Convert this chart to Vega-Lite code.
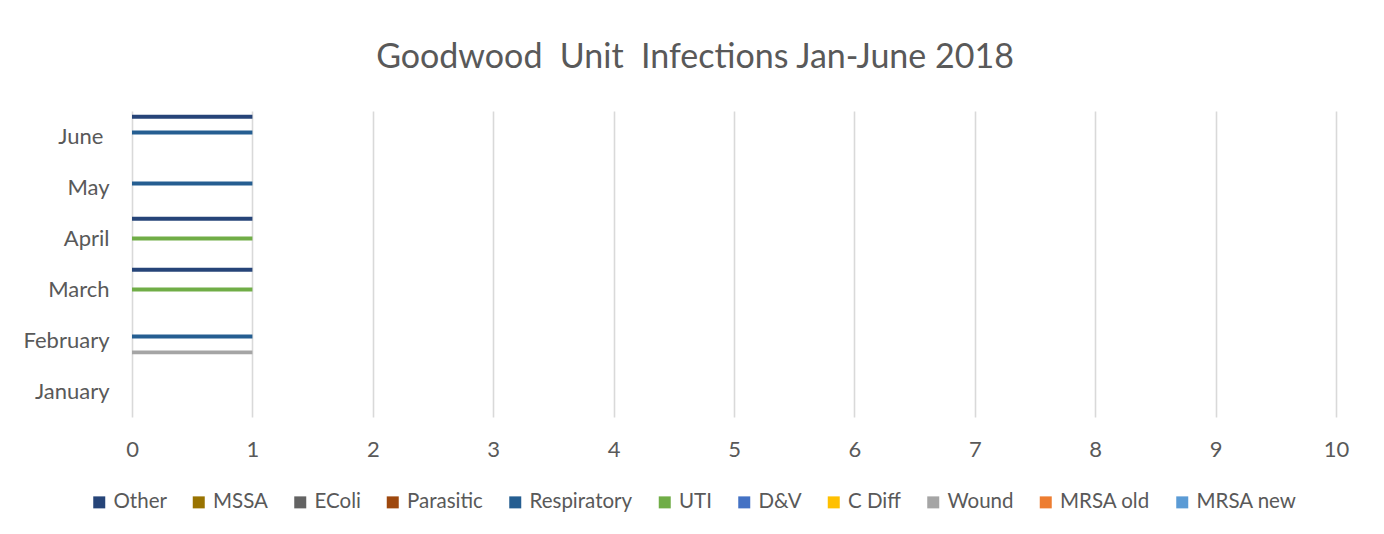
{
  "$schema": "https://vega.github.io/schema/vega-lite/v6.json",
  "width": 1204,
  "height": 306,
  "autosize": "none",
  "padding": {"left": 132, "top": 111, "right": 48, "bottom": 117},
  "background": "white",
  "config": {"view": {"stroke": null}, "font": "Lato"},
  "title": {
    "text": "Goodwood\u00a0 Unit\u00a0 Infections Jan-June 2018",
    "fontSize": 34,
    "font": "Lato",
    "fontWeight": "normal",
    "color": "#595959",
    "anchor": "middle",
    "dx": -39,
    "offset": 9,
    "baseline": "alphabetic"
  },
  "data": {
    "values": [
      {"month": "June", "infection": "Other", "count": 1},
      {"month": "June", "infection": "Respiratory", "count": 1},
      {"month": "May", "infection": "Respiratory", "count": 1},
      {"month": "April", "infection": "Other", "count": 1},
      {"month": "April", "infection": "UTI", "count": 1},
      {"month": "March", "infection": "Other", "count": 1},
      {"month": "March", "infection": "UTI", "count": 1},
      {"month": "February", "infection": "Respiratory", "count": 1},
      {"month": "February", "infection": "Wound", "count": 1}
    ]
  },
  "mark": {"type": "bar"},
  "encoding": {
    "y": {
      "field": "month",
      "type": "nominal",
      "scale": {
        "domain": ["June", "May", "April", "March", "February", "January"],
        "paddingInner": 0.147,
        "paddingOuter": 0.0735
      },
      "axis": {
        "title": null,
        "ticks": false,
        "domain": false,
        "grid": false,
        "labelPadding": {"condition": {"test": "datum.value == 'June'", "value": 29}, "value": 23},
        "labelFontSize": 22,
        "labelFont": "Lato",
        "labelColor": "#595959"
      }
    },
    "yOffset": {
      "field": "infection",
      "type": "nominal",
      "scale": {
        "domain": ["Other", "MSSA", "EColi", "Parasitic", "Respiratory", "UTI", "D&V", "C Diff", "Wound", "MRSA old", "MRSA new"],
        "paddingInner": 0,
        "paddingOuter": 0
      }
    },
    "x": {
      "field": "count",
      "type": "quantitative",
      "scale": {"domain": [0, 10], "nice": false},
      "axis": {
        "title": null,
        "values": [0, 1, 2, 3, 4, 5, 6, 7, 8, 9, 10],
        "grid": true,
        "gridColor": "#d9d9d9",
        "gridWidth": 1.6,
        "domain": false,
        "ticks": false,
        "labelFlush": false,
        "labelPadding": 22,
        "labelFontSize": 22,
        "labelFont": "Lato",
        "labelColor": "#595959"
      }
    },
    "color": {
      "field": "infection",
      "type": "nominal",
      "scale": {
        "domain": ["Other", "MSSA", "EColi", "Parasitic", "Respiratory", "UTI", "D&V", "C Diff", "Wound", "MRSA old", "MRSA new"],
        "range": ["#264478", "#997300", "#636363", "#9E480E", "#255E91", "#70AD47", "#4472C4", "#FFC000", "#A5A5A5", "#ED7D31", "#5B9BD5"]
      },
      "legend": {
        "title": null,
        "orient": "none",
        "legendX": -43,
        "legendY": 381,
        "direction": "horizontal",
        "columns": 11,
        "padding": 0,
        "symbolType": "square",
        "symbolSize": 144,
        "symbolStrokeWidth": 0,
        "symbolOpacity": 1,
        "labelFontSize": 20.5,
        "labelFont": "Lato",
        "labelColor": "#595959",
        "labelOffset": 4,
        "columnPadding": 21.5,
        "labelLimit": 300
      }
    }
  }
}
